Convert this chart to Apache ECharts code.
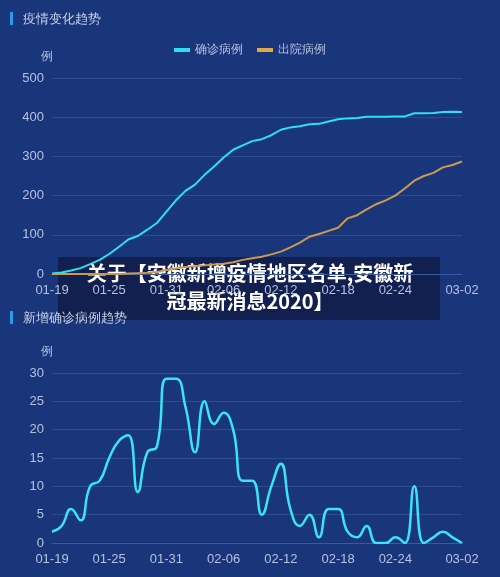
<!DOCTYPE html>
<html><head><meta charset="utf-8">
<script src="https://cdn.jsdelivr.net/npm/echarts@6/dist/echarts.min.js"></script>
<style>html,body{margin:0;padding:0;background:#1a367a}#c{width:500px;height:577px}</style>
</head><body><div id="c"></div>
<script>
const dates=['01-19','01-20','01-21','01-22','01-23','01-24','01-25','01-26','01-27','01-28','01-29','01-30','01-31','02-01','02-02','02-03','02-04','02-05','02-06','02-07','02-08','02-09','02-10','02-11','02-12','02-13','02-14','02-15','02-16','02-17','02-18','02-19','02-20','02-21','02-22','02-23','02-24','02-25','02-26','02-27','02-28','02-29','03-01','03-02'];
const confirmed=[1,4,9,15,25,36,51,69,88,97,113,130,159,188,212,228,253,274,297,317,328,339,344,354,368,374,377,382,383,389,395,397,398,401,401,401,402,402,410,410,411,413,414,413];
const discharged=[0,0,0,0,0,0,0,0,1,2,3,5,10,14,18,20,22,24,26,30,36,40,44,50,57,68,80,95,102,110,118,142,150,165,178,188,200,218,238,250,258,272,278,287];
const daily=[2,3,6,4,10,11,15,18,19,9,16,17,29,29,24,16,25,21,23,20,11,11,5,10,14,6,3,5,1,6,6,2,1,3,0,0,1,0,10,0,1,2,1,0];
const lab='#b4c1e0', grid='rgba(120,150,220,0.22)';
const showLbl=(i)=>i%6===0||i===dates.length-1;
function xa(gi){return {type:'category',gridIndex:gi,data:dates,boundaryGap:false,
 axisLine:{lineStyle:{color:'#3a5aa0'}},axisTick:{show:false},
 axisLabel:{color:lab,fontSize:13,margin:10,interval:(i)=>showLbl(i)&&!(i===42),showMaxLabel:true}};}
function ya(gi,max,iv){return {type:'value',gridIndex:gi,min:0,max:max,interval:iv,name:'例',
 nameTextStyle:{color:lab,fontSize:12,padding:[0,10,0,0]},axisLine:{show:false},axisTick:{show:false},
 axisLabel:{color:lab,fontSize:13},splitLine:{lineStyle:{color:grid}}};}
const ch=echarts.init(document.getElementById('c'));
ch.setOption({
 backgroundColor:'#1a367a',
 title:[{text:'疫情变化趋势',left:18,top:8,textStyle:{color:'#c8d2ea',fontSize:13,fontWeight:'normal'}},
        {text:'新增确诊病例趋势',left:18,top:307,textStyle:{color:'#c8d2ea',fontSize:13,fontWeight:'normal'}}],
 legend:{top:39,left:'center',itemWidth:16,itemHeight:4,icon:'rect',itemGap:14,textStyle:{color:lab,fontSize:12},
   data:['确诊病例','出院病例']},
 grid:[{left:52,right:38,top:78,height:196},{left:52,right:38,top:373,height:170}],
 xAxis:[xa(0),xa(1)],
 yAxis:[ya(0,500,100),ya(1,30,5)],
 series:[
  {name:'确诊病例',type:'line',xAxisIndex:0,yAxisIndex:0,data:confirmed,showSymbol:false,lineStyle:{color:'#2fe0f0',width:2},itemStyle:{color:'#2fe0f0'}},
  {name:'出院病例',type:'line',xAxisIndex:0,yAxisIndex:0,data:discharged,showSymbol:false,lineStyle:{color:'#cc9a4e',width:2},itemStyle:{color:'#e0a84a'}},
  {name:'新增',type:'line',xAxisIndex:1,yAxisIndex:1,data:daily,smooth:0.5,showSymbol:false,lineStyle:{color:'#3ae4f2',width:2.5}}
 ],
 graphic:[
  {type:'rect',left:10,top:12,shape:{width:3,height:13},style:{fill:'#2a9bea'}},
  {type:'rect',left:10,top:311,shape:{width:3,height:13},style:{fill:'#2a9bea'}},
  {type:'rect',left:58,top:257,shape:{width:382,height:63},style:{fill:'rgba(16,30,72,0.88)'}},
  {type:'text',left:'center',top:259,style:{text:'关于【安徽新增疫情地区名单,安徽新\n冠最新消息2020】',fill:'#ffffff',font:'bold 20px "Noto Sans CJK SC"',textAlign:'center',lineHeight:28}}
 ]
});
</script></body></html>
